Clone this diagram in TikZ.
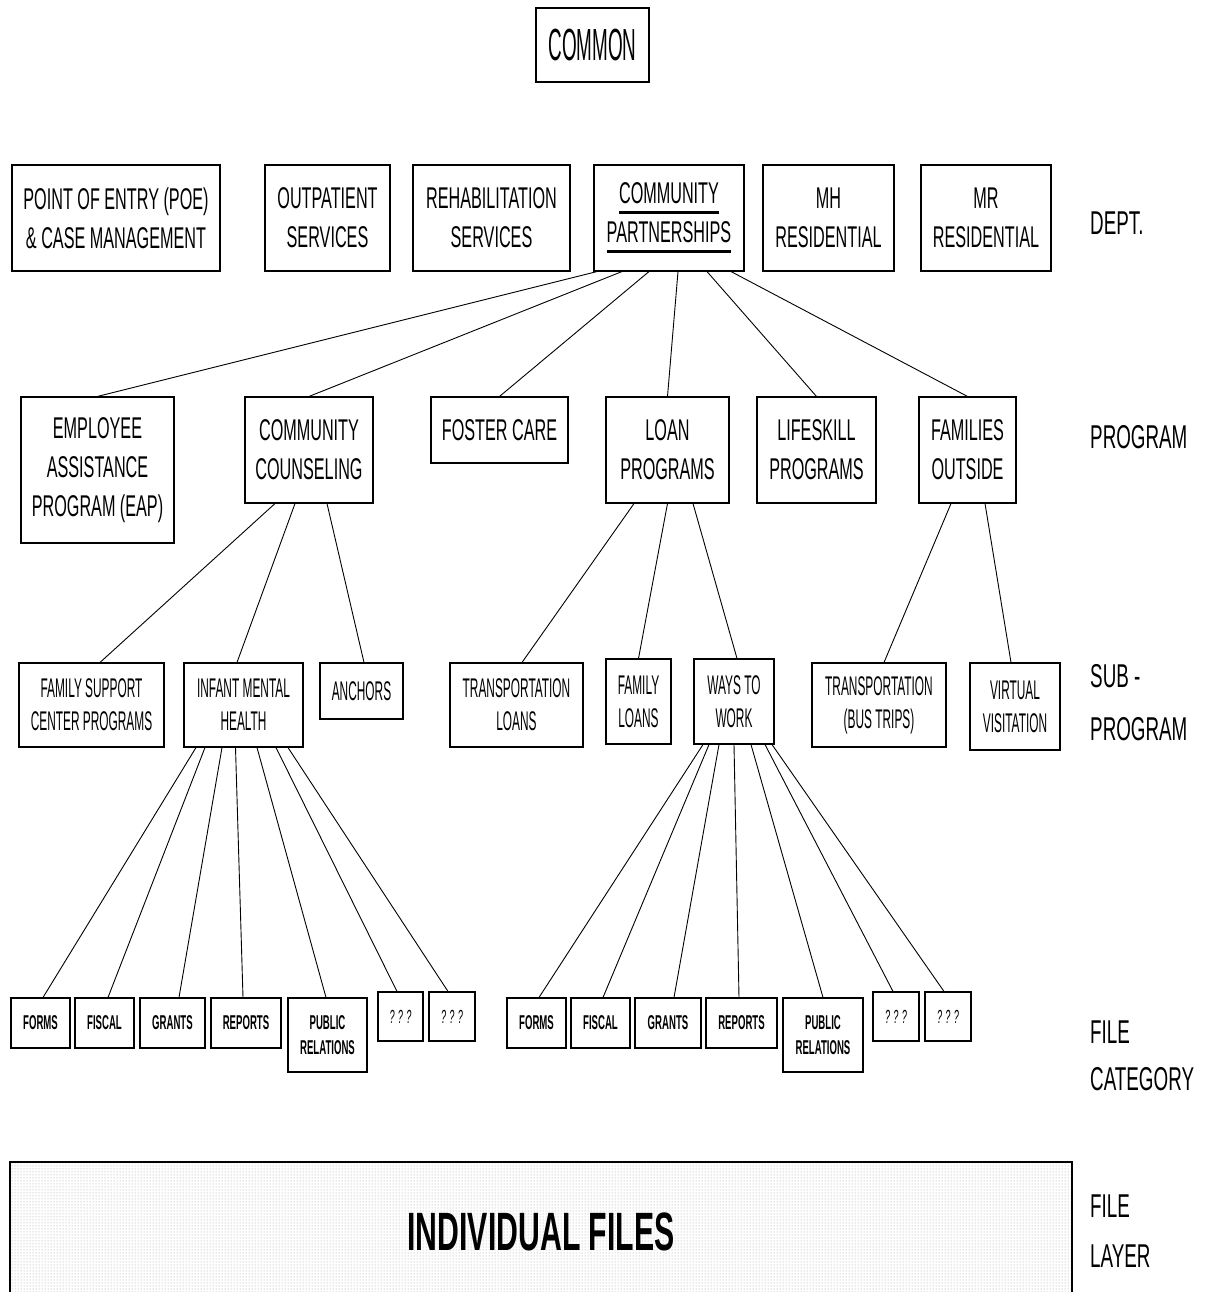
\documentclass[tikz,border=0pt]{standalone}
\usepackage{fontspec}
\usetikzlibrary{patterns}
% condensed sans faces for the chart
\newfontfamily\fdept{Liberation Sans}[FakeStretch=0.54]
\newfontfamily\fsub{Liberation Sans}[FakeStretch=0.44]
\newfontfamily\ftop{Liberation Sans}[FakeStretch=0.42]
\newfontfamily\flab{Liberation Sans}[FakeStretch=0.57]
\newfontfamily\fcat{Liberation Sans}[FakeStretch=0.48]
\newfontfamily\fbig{Liberation Sans}[FakeStretch=0.56]
% heavy underline used for the highlighted department
\newcommand\heavyul[1]{\setbox0\hbox{#1}\rlap{\rule[-10.5pt]{\wd0}{3pt}}\box0}

\tikzset{
  bx/.style={draw=black, line width=1.1pt, inner sep=0pt, align=center},
  tdept/.style={font=\fdept\fontsize{30}{39}\selectfont},
  tsub/.style={font=\fsub\fontsize{27}{33}\selectfont},
  tcat/.style={font=\fcat\bfseries\fontsize{20}{25}\selectfont},
  tq/.style={font=\fcat\itshape\fontsize{19}{22}\selectfont},
  lab/.style={anchor=west, align=left, inner sep=0pt},
  link/.style={line width=0.9pt},
}

\begin{document}
\begin{tikzpicture}[x=1pt, y=-1pt]
\useasboundingbox[fill=white] (0,0) rectangle (1204,1292);

% ---- top
\node[bx, font=\ftop\fontsize{45}{48}\selectfont, minimum width=113pt, minimum height=74pt] (common) at (592.5,45) {COMMON};

% ---- departments
\node[bx, tdept, minimum width=208pt, minimum height=106pt] (poe)   at (116,218)   {POINT OF ENTRY (POE)\\\& CASE MANAGEMENT};
\node[bx, tdept, minimum width=125pt, minimum height=106pt] (outp)  at (327.5,218) {OUTPATIENT\\SERVICES};
\node[bx, tdept, minimum width=157pt, minimum height=106pt] (rehab) at (491.5,218) {REHABILITATION\\SERVICES};
\node[bx, tdept, minimum width=150pt, minimum height=106pt] (cp)    at (669,218)   {\heavyul{COMMUNITY}\\\heavyul{PARTNERSHIPS}};
\node[bx, tdept, minimum width=131pt, minimum height=106pt] (mh)    at (828.5,218) {MH\\RESIDENTIAL};
\node[bx, tdept, minimum width=130pt, minimum height=106pt] (mr)    at (986,218)   {MR\\RESIDENTIAL};

% ---- programs
\node[bx, tdept, minimum width=153pt, minimum height=146pt] (eap)    at (97.5,470)  {EMPLOYEE\\ASSISTANCE\\PROGRAM (EAP)};
\node[bx, tdept, minimum width=128pt, minimum height=106pt] (cc)     at (309,450)   {COMMUNITY\\COUNSELING};
\node[bx, tdept, minimum width=137pt, minimum height=66pt]  (foster) at (499.5,430) {FOSTER CARE};
\node[bx, tdept, minimum width=123pt, minimum height=106pt] (loan)   at (667.5,450) {LOAN\\PROGRAMS};
\node[bx, tdept, minimum width=119pt, minimum height=106pt] (life)   at (816.5,450) {LIFESKILL\\PROGRAMS};
\node[bx, tdept, minimum width=97pt,  minimum height=106pt] (fam)    at (967.5,450) {FAMILIES\\OUTSIDE};

% ---- sub-programs
\node[bx, tsub, minimum width=145pt, minimum height=84pt] (fscp) at (91.5,705)   {FAMILY SUPPORT\\CENTER PROGRAMS};
\node[bx, tsub, minimum width=119pt, minimum height=84pt] (imh)  at (243.5,705)  {INFANT MENTAL\\HEALTH};
\node[bx, tsub, minimum width=83pt,  minimum height=56pt] (anch) at (361.5,691)  {ANCHORS};
\node[bx, tsub, minimum width=133pt, minimum height=84pt] (tl)   at (516.5,705)  {TRANSPORTATION\\LOANS};
\node[bx, tsub, minimum width=65pt,  minimum height=85pt] (fl)   at (638.5,701.5){FAMILY\\LOANS};
\node[bx, tsub, minimum width=80pt,  minimum height=85pt] (wtw)  at (734,701.5)  {WAYS TO\\WORK};
\node[bx, tsub, minimum width=134pt, minimum height=84pt] (bt)   at (879,705)    {TRANSPORTATION\\(BUS TRIPS)};
\node[bx, tsub, minimum width=90pt,  minimum height=87pt] (vv)   at (1015,706.5) {VIRTUAL\\VISITATION};

% ---- file categories under INFANT MENTAL HEALTH
\node[bx, tcat, minimum width=59pt, minimum height=50pt] (a1) at (40.5,1023)  {FORMS};
\node[bx, tcat, minimum width=59pt, minimum height=50pt] (a2) at (104.5,1023) {FISCAL};
\node[bx, tcat, minimum width=65pt, minimum height=50pt] (a3) at (172.5,1023) {GRANTS};
\node[bx, tcat, minimum width=70pt, minimum height=50pt] (a4) at (246,1023)   {REPORTS};
\node[bx, tcat, minimum width=79pt, minimum height=74pt] (a5) at (327.5,1035) {PUBLIC\\RELATIONS};
\node[bx, tq,   minimum width=45pt, minimum height=49pt] (a6) at (400.5,1016.5) {? ? ?};
\node[bx, tq,   minimum width=46pt, minimum height=49pt] (a7) at (452,1016.5)   {? ? ?};

% ---- file categories under WAYS TO WORK
\node[bx, tcat, minimum width=59pt, minimum height=50pt] (b1) at (536.5,1023) {FORMS};
\node[bx, tcat, minimum width=59pt, minimum height=50pt] (b2) at (600.5,1023) {FISCAL};
\node[bx, tcat, minimum width=66pt, minimum height=50pt] (b3) at (668,1023)   {GRANTS};
\node[bx, tcat, minimum width=71pt, minimum height=50pt] (b4) at (741.5,1023) {REPORTS};
\node[bx, tcat, minimum width=80pt, minimum height=74pt] (b5) at (823,1035)   {PUBLIC\\RELATIONS};
\node[bx, tq,   minimum width=46pt, minimum height=49pt] (b6) at (896,1016.5) {? ? ?};
\node[bx, tq,   minimum width=46pt, minimum height=49pt] (b7) at (948,1016.5) {? ? ?};

% ---- file layer band (runs off the lower edge)
\node[draw=black, line width=1.1pt, pattern=dots, pattern color=gray!75,
      minimum width=1062pt, minimum height=140pt, inner sep=0pt,
      font=\fbig\bfseries\fontsize{54}{58}\selectfont] (files) at (541,1232) {INDIVIDUAL FILES};

% ---- level labels
\node[lab, font=\flab\fontsize{33}{50}\selectfont] (ldept) at (1090,223)  {DEPT.};
\node[lab, font=\flab\fontsize{33}{50}\selectfont] (lprog) at (1090,437)  {PROGRAM};
\node[lab, font=\flab\fontsize{33}{53}\selectfont] (lsub)  at (1090,703)  {SUB -\\PROGRAM};
\node[lab, font=\flab\fontsize{33}{47}\selectfont] (lcat)  at (1090,1056) {FILE\\CATEGORY};
\node[lab, font=\flab\fontsize{33}{50}\selectfont] (llay)  at (1090,1231) {FILE\\LAYER};

% ---- connectors: department -> programs
\draw[link] ([xshift=-72pt]cp.south) -- (eap.north);
\draw[link] ([xshift=-47pt]cp.south) -- (cc.north);
\draw[link] ([xshift=-20pt]cp.south) -- (foster.north);
\draw[link] ([xshift=9pt]cp.south)   -- (loan.north);
\draw[link] ([xshift=38pt]cp.south)  -- (life.north);
\draw[link] ([xshift=62pt]cp.south)  -- (fam.north);

% ---- programs -> sub-programs
\draw[link] ([xshift=-34pt]cc.south) -- ([xshift=8.5pt]fscp.north);
\draw[link] ([xshift=-14pt]cc.south) -- ([xshift=-6.5pt]imh.north);
\draw[link] ([xshift=18pt]cc.south)  -- ([xshift=2.5pt]anch.north);
\draw[link] ([xshift=-33.5pt]loan.south) -- ([xshift=5.5pt]tl.north);
\draw[link] ([xshift=0pt]loan.south)     -- (fl.north);
\draw[link] ([xshift=25.5pt]loan.south)  -- ([xshift=3pt]wtw.north);
\draw[link] ([xshift=-16.5pt]fam.south) -- ([xshift=5pt]bt.north);
\draw[link] ([xshift=17.5pt]fam.south)  -- ([xshift=-4pt]vv.north);

% ---- sub-programs -> file categories
\draw[link] ([xshift=-47.5pt]imh.south) -- ([xshift=2.5pt]a1.north);
\draw[link] ([xshift=-38.5pt]imh.south) -- ([xshift=3.5pt]a2.north);
\draw[link] ([xshift=-21.5pt]imh.south) -- ([xshift=6.5pt]a3.north);
\draw[link] ([xshift=-8pt]imh.south)    -- ([xshift=-3pt]a4.north);
\draw[link] ([xshift=13.5pt]imh.south)  -- ([xshift=-1.5pt]a5.north);
\draw[link] ([xshift=32.5pt]imh.south)  -- ([xshift=-3.5pt]a6.north);
\draw[link] ([xshift=44.5pt]imh.south)  -- ([xshift=-4pt]a7.north);

\draw[link] ([xshift=-31pt]wtw.south) -- ([xshift=2.5pt]b1.north);
\draw[link] ([xshift=-25pt]wtw.south) -- ([xshift=2.5pt]b2.north);
\draw[link] ([xshift=-15pt]wtw.south) -- ([xshift=6pt]b3.north);
\draw[link] ([xshift=0pt]wtw.south)   -- ([xshift=-2.5pt]b4.north);
\draw[link] ([xshift=17pt]wtw.south)  -- (b5.north);
\draw[link] ([xshift=31pt]wtw.south)  -- ([xshift=-3pt]b6.north);
\draw[link] ([xshift=38pt]wtw.south)  -- ([xshift=-4pt]b7.north);
\end{tikzpicture}
\end{document}
